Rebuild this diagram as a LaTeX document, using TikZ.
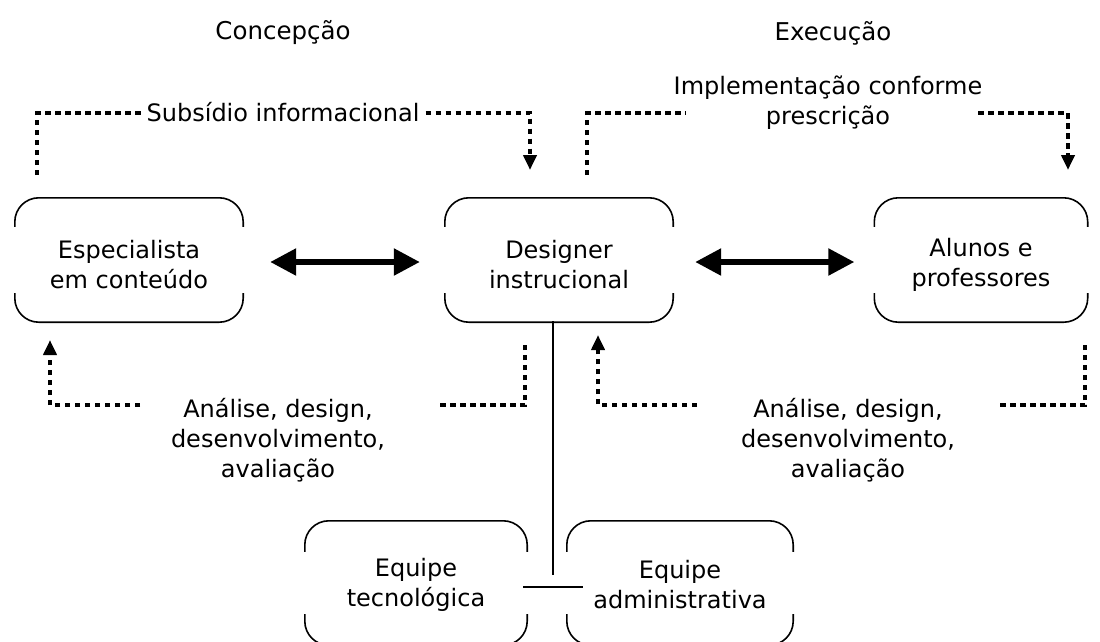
\documentclass[tikz,border=0pt]{standalone}
\usepackage{fontspec}
\setmainfont{DejaVu Sans}
\usetikzlibrary{arrows.meta,calc}

\tikzset{
  boxtext/.style={align=center, font=\fontsize{24}{30}\selectfont, inner sep=0pt},
  heading/.style={font=\fontsize{24.5}{30}\selectfont, inner sep=0pt},
  flowlabel/.style={align=center, font=\fontsize{24}{30}\selectfont, inner sep=0pt},
  frame/.style={line width=1.6pt, rounded corners=24pt},
  dotline/.style={line width=4.5pt, dash pattern=on 5.5pt off 4.5pt},
  dotarrow/.style={dotline, -{Triangle[width=13pt,length=15pt]}},
  biarrow/.style={line width=5.5pt, {Triangle[width=26pt,length=26pt]}-{Triangle[width=26pt,length=26pt]}},
  plain/.style={line width=1.8pt}
}

% open frame around a node: rounded top and bottom, side walls interrupted;
% #2 = length of each wall stub, #3 = vertical offset of the frame (upwards)
\newcommand\openframe[3]{%
  \draw[frame] ($(#1.north west)+(0,#2-#3)$) -- ($(#1.north west)+(0,-#3)$) -- ($(#1.north east)+(0,-#3)$) -- ($(#1.north east)+(0,#2-#3)$);
  \draw[frame] ($(#1.south west)-(0,#2+#3)$) -- ($(#1.south west)+(0,-#3)$) -- ($(#1.south east)+(0,-#3)$) -- ($(#1.south east)-(0,#2+#3)$);
}

\begin{document}
\begin{tikzpicture}[x=1pt, y=-1pt]
\useasboundingbox (0,0) rectangle (1100,641);

% headings
\node[heading] (hconc) at (283,33) {Concepção};
\node[heading] (hexec) at (833,33) {Execução};

% main boxes (text sits slightly below the frame centre)
\node[boxtext, minimum width=228pt, minimum height=124pt] (esp) at (129,265) {Especialista\\em conteúdo};
\node[boxtext, minimum width=228pt, minimum height=124pt] (des) at (559,265) {Designer\\instrucional};
\node[boxtext, minimum width=213pt, minimum height=124pt] (alu) at (981,265) {Alunos e\\professores};
\openframe{esp}{29}{5}
\openframe{des}{29}{5}
\openframe{alu}{29}{5}

% support teams
\node[boxtext, minimum width=222pt, minimum height=124pt] (tec) at (416,585) {Equipe\\tecnológica};
\node[boxtext, minimum width=226pt, minimum height=124pt] (adm) at (680,585) {Equipe\\administrativa};
\openframe{tec}{31}{2}
\openframe{adm}{31}{2}

% two-way exchanges
\draw[biarrow] ([yshift=3pt,xshift=27pt]esp.east) -- ([yshift=3pt,xshift=-25pt]des.west);
\draw[biarrow] ([yshift=3pt,xshift=22pt]des.east) -- ([yshift=3pt,xshift=-20pt]alu.west);

% link to the support teams
\coordinate (vtop) at (553,321);
\coordinate (vbot) at (553,575);
\coordinate (hl) at (523,587);
\coordinate (hr) at (583,587);
\draw[plain] (vtop) -- (vbot);
\draw[plain] (hl) -- (hr);

% informational input
\node[flowlabel] (subs) at (283,112) {Subsídio informacional};
\coordinate (s1) at (37,175);
\coordinate (s2) at (530,170);
\coordinate (srow) at (0,113);
\draw[dotline] (s1) |- ([xshift=-4pt]subs.west |- srow);
\draw[dotarrow] ([xshift=6pt]subs.east |- srow) -| (s2);

% implementation
\node[flowlabel] (impl) at (828,103) {Implementação conforme\\prescrição};
\coordinate (i1) at (587,175);
\coordinate (i2) at (1068,170);
\coordinate (il) at (686,113);
\coordinate (ir) at (978,113);
\draw[dotline] (i1) |- (il);
\draw[dotarrow] (ir) -| (i2);

% analysis, design, development, evaluation
\node[flowlabel] (ana1) at (278,440) {Análise, design,\\desenvolvimento,\\avaliação};
\node[flowlabel] (ana2) at (848,440) {Análise, design,\\desenvolvimento,\\avaliação};
\coordinate (a1s) at (140,405);
\coordinate (a1t) at (50,340);
\coordinate (a1r) at (440,405);
\coordinate (a1u) at (525,345);
\draw[dotarrow] (a1s) -| (a1t);
\draw[dotline] (a1r) -| (a1u);
\coordinate (a2s) at (697,405);
\coordinate (a2t) at (598,335);
\coordinate (a2r) at (1000,405);
\coordinate (a2u) at (1085,345);
\draw[dotarrow] (a2s) -| (a2t);
\draw[dotline] (a2r) -| (a2u);
\end{tikzpicture}
\end{document}
